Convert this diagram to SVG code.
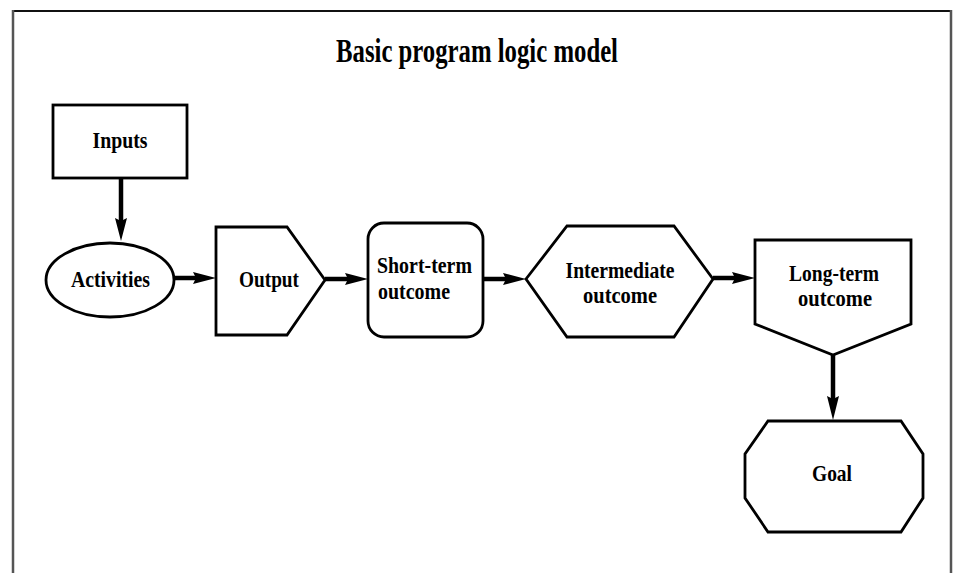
<svg xmlns="http://www.w3.org/2000/svg" width="955" height="573" viewBox="0 0 955 573">
<style>
.shape{fill:#fff;stroke:#000;stroke-width:2.8;stroke-linejoin:miter}
.lbl{font-family:"Liberation Serif","Times New Roman",serif;font-weight:bold;font-size:23px;fill:#000;text-anchor:middle}
.title{font-family:"Liberation Serif","Times New Roman",serif;font-weight:bold;font-size:34px;fill:#000;text-anchor:middle}
.shaft{stroke:#000;stroke-width:4.5;fill:none}
.head{fill:#000;stroke:none}
</style>
<rect x="0" y="0" width="955" height="573" fill="#fff"/>
<g id="frame">
<line x1="13" y1="11" x2="951" y2="11" stroke="#111" stroke-width="2"/>
<line x1="13" y1="10" x2="13" y2="573" stroke="#555" stroke-width="2.5"/>
<line x1="951" y1="10" x2="951" y2="573" stroke="#555" stroke-width="2.5"/>
</g>
<text class="title" x="477" y="62" textLength="282" lengthAdjust="spacingAndGlyphs">Basic program logic model</text>
<g id="connectors">
<line class="shaft" x1="121" y1="178" x2="121" y2="222"/>
<polygon class="head" points="115,218 121,241 127,218 121,221"/>
<line class="shaft" x1="174" y1="278" x2="197" y2="278"/>
<polygon class="head" points="193,272 216,278 193,284 196,278"/>
<line class="shaft" x1="325" y1="279" x2="349" y2="279"/>
<polygon class="head" points="345,273 368,279 345,285 348,279"/>
<line class="shaft" x1="483" y1="279" x2="507" y2="279"/>
<polygon class="head" points="503,273 526,279 503,285 506,279"/>
<line class="shaft" x1="713" y1="278" x2="736" y2="278"/>
<polygon class="head" points="732,272 755,278 732,284 735,278"/>
<line class="shaft" x1="833" y1="355" x2="833" y2="400"/>
<polygon class="head" points="827,396 833,420 839,396 833,399"/>
</g>
<g id="inputs">
<rect class="shape" x="53" y="105" width="134" height="73"/>
<text class="lbl" x="120" y="148" textLength="55" lengthAdjust="spacingAndGlyphs">Inputs</text>
</g>
<g id="activities">
<ellipse class="shape" cx="110" cy="280" rx="64" ry="37"/>
<text class="lbl" x="110.5" y="287" textLength="79" lengthAdjust="spacingAndGlyphs">Activities</text>
</g>
<g id="output">
<polygon class="shape" points="216,227 287,227 325,280 287,335 216,335"/>
<text class="lbl" x="269" y="287" textLength="60" lengthAdjust="spacingAndGlyphs">Output</text>
</g>
<g id="short-term">
<rect class="shape" x="368" y="223" width="115" height="114" rx="16" ry="16"/>
<text class="lbl" x="377" y="273" style="text-anchor:start" textLength="95" lengthAdjust="spacingAndGlyphs">Short-term</text>
<text class="lbl" x="378" y="299" style="text-anchor:start" textLength="72" lengthAdjust="spacingAndGlyphs">outcome</text>
</g>
<g id="intermediate">
<polygon class="shape" points="526,279 567,226 674,226 713,279 674,337 567,337"/>
<text class="lbl" x="620" y="278" textLength="109" lengthAdjust="spacingAndGlyphs">Intermediate</text>
<text class="lbl" x="620" y="303" textLength="74" lengthAdjust="spacingAndGlyphs">outcome</text>
</g>
<g id="long-term">
<polygon class="shape" points="755,240 911,240 911,324 833,355 755,324"/>
<text class="lbl" x="834" y="281" textLength="90" lengthAdjust="spacingAndGlyphs">Long-term</text>
<text class="lbl" x="835" y="306" textLength="74" lengthAdjust="spacingAndGlyphs">outcome</text>
</g>
<g id="goal">
<polygon class="shape" points="768,421 901,421 923,454 923,498 901,532 768,532 745,498 745,454"/>
<text class="lbl" x="832" y="481" textLength="40" lengthAdjust="spacingAndGlyphs">Goal</text>
</g>
</svg>
